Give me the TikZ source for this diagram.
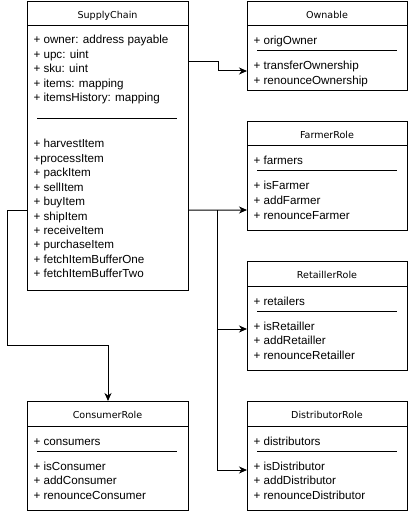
\documentclass[tikz,border=0pt]{standalone}
\usepackage{fontspec}
\setmainfont{Liberation Sans}
\newfontfamily\titlefont{DejaVu Sans}
\usetikzlibrary{arrows.meta}

\begin{document}
\begin{tikzpicture}[x=1bp, y=-1bp, line width=1bp, >={Stealth[length=8bp,width=7bp,inset=2.5bp]},
	classbox/.style 2 args={draw, anchor=north west, inner sep=0pt, minimum width=#1, minimum height=#2},
	member/.style={anchor=base west, inner sep=0pt, font=\fontsize{11.7}{14}\selectfont},
	classname/.style={anchor=base, inner sep=0pt, font=\titlefont\fontsize{9.6}{11}\selectfont}]
	\useasboundingbox (0,0) rectangle (408,511);
	% SupplyChain
	\node[classbox={161bp}{289bp}] (sc) at (27,1) {};
	\node[classname] (sc-t) at (107.5,18.5) {SupplyChain};
	\draw ([yshift=-25bp]sc.north west) -- ([yshift=-25bp]sc.north east);
	\foreach \t [count=\i] in {+ owner: address payable, + upc: uint, + sku: uint, + items: mapping, + itemsHistory: mapping}
		{\node[member] (sc-a\i) at (33,{29.6+14.4*\i}) {\t};}
	\draw (37,119) -- (177,119);
	\foreach \t [count=\i] in {+ harvestItem, +processItem, + packItem, + sellItem, + buyItem, + shipItem, + receiveItem, + purchaseItem, + fetchItemBufferOne, + fetchItemBufferTwo}
		{\node[member] (sc-m\i) at (33,{133.6+14.4*\i}) {\t};}
	% Ownable
	\node[classbox={160bp}{89bp}] (own) at (247,1) {};
	\node[classname] (own-t) at (327,18.5) {Ownable};
	\draw ([yshift=-25bp]own.north west) -- ([yshift=-25bp]own.north east);
	\node[member] (own-a1) at (253,45) {+ origOwner};
	\draw (257,51) -- (397,51);
	\foreach \t [count=\i] in {+ transferOwnership, + renounceOwnership}
		{\node[member] (own-m\i) at (253,{55.5+14.5*\i}) {\t};}
	% FarmerRole
	\node[classbox={160bp}{109bp}] (farmer) at (247,121) {};
	\node[classname] (farmer-t) at (327,138.5) {FarmerRole};
	\draw ([yshift=-25bp]farmer.north west) -- ([yshift=-25bp]farmer.north east);
	\node[member] (farmer-a1) at (253,165) {+ farmers};
	\draw (257,171) -- (397,171);
	\foreach \t [count=\i] in {+ isFarmer, + addFarmer, + renounceFarmer}
		{\node[member] (farmer-m\i) at (253,{175.5+14.5*\i}) {\t};}
	% RetaillerRole
	\node[classbox={160bp}{109bp}] (ret) at (247,261) {};
	\node[classname] (ret-t) at (327,278.5) {RetaillerRole};
	\draw ([yshift=-25bp]ret.north west) -- ([yshift=-25bp]ret.north east);
	\node[member] (ret-a1) at (253,305) {+ retailers};
	\draw (257,311) -- (397,311);
	\foreach \t [count=\i] in {+ isRetailler, + addRetailler, + renounceRetailler}
		{\node[member] (ret-m\i) at (253,{315.5+14.5*\i}) {\t};}
	% DistributorRole
	\node[classbox={160bp}{109bp}] (dist) at (247,401) {};
	\node[classname] (dist-t) at (327,418.5) {DistributorRole};
	\draw ([yshift=-25bp]dist.north west) -- ([yshift=-25bp]dist.north east);
	\node[member] (dist-a1) at (253,445) {+ distributors};
	\draw (257,451) -- (397,451);
	\foreach \t [count=\i] in {+ isDistributor, + addDistributor, + renounceDistributor}
		{\node[member] (dist-m\i) at (253,{455.5+14.5*\i}) {\t};}
	% ConsumerRole
	\node[classbox={161bp}{109bp}] (cons) at (27,401) {};
	\node[classname] (cons-t) at (107.5,418.5) {ConsumerRole};
	\draw ([yshift=-25bp]cons.north west) -- ([yshift=-25bp]cons.north east);
	\node[member] (cons-a1) at (33,445) {+ consumers};
	\draw (37,451) -- (177,451);
	\foreach \t [count=\i] in {+ isConsumer, + addConsumer, + renounceConsumer}
		{\node[member] (cons-m\i) at (33,{455.5+14.5*\i}) {\t};}
	% connectors
	\coordinate (bus) at (217,210);
	\draw[->] ([yshift=-61bp]sc.north east) -- ++(29,0) |- ([yshift=-70bp]own.north west);
	\draw[->] ([yshift=-209bp]sc.north east) -- ([yshift=-89bp]farmer.north west);
	\draw[->] (bus) |- ([yshift=-68bp]ret.north west);
	\draw[->] (bus) |- ([yshift=-69bp]dist.north west);
	\draw[->] ([yshift=-209bp]sc.north west) -- ++(-20,0) -- ++(0,135) -| (cons.north);
\end{tikzpicture}
\end{document}
